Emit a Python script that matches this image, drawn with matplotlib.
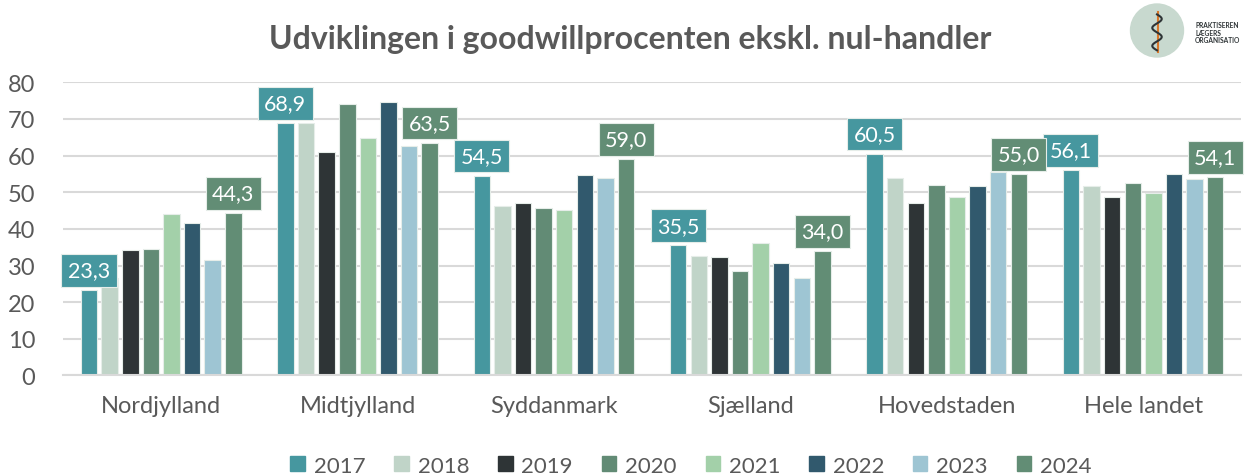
import numpy as np
import matplotlib
matplotlib.use("Agg")
import matplotlib.pyplot as plt
from matplotlib.patches import Circle

plt.rcParams['font.family'] = ['Lato', 'DejaVu Sans']

categories = ["Nordjylland", "Midtjylland", "Syddanmark", "Sjælland", "Hovedstaden", "Hele landet"]
years = ["2017", "2018", "2019", "2020", "2021", "2022", "2023", "2024"]
v2017 = [23.3, 68.9, 54.5, 35.5, 60.5, 56.1]
v2018 = [26.7, 68.9, 46.3, 32.6, 54.0, 51.6]
v2019 = [34.2, 61.0, 47.2, 32.2, 47.0, 48.6]
v2020 = [34.6, 74.1, 45.6, 28.5, 52.0, 52.5]
v2021 = [44.0, 64.7, 45.1, 36.1, 48.6, 49.8]
v2022 = [41.7, 74.7, 54.7, 30.8, 51.8, 54.9]
v2023 = [31.4, 62.7, 53.8, 26.7, 55.6, 53.6]
v2024 = [44.3, 63.5, 59.0, 34.0, 55.0, 54.1]
series = [v2017, v2018, v2019, v2020, v2021, v2022, v2023, v2024]
colors = ["#46979F", "#C0D4C8", "#2E3436", "#628B75", "#A3D0A9", "#31596D", "#9EC5D3", "#628D75"]
labelled = {0, 7}

fig = plt.figure(figsize=(12.45, 4.77), dpi=100)
ax = fig.add_axes([0.0506, 0.2107, 0.9464, 0.6147])

x = np.arange(len(categories))
stride = 0.105
width = 0.084
n = len(series)
for i, (vals, c) in enumerate(zip(series, colors)):
    off = (i - (n - 1) / 2) * stride
    ax.bar(x + off, vals, width, color=c, edgecolor="#E6EDE9", linewidth=0.8, zorder=2)
    if i in labelled:
        for xi, v in zip(x + off, vals):
            ax.annotate(f"{v:.1f}".replace(".", ","), (xi, v), xytext=(0, 7),
                        textcoords="offset points", ha="center", va="bottom",
                        fontsize=15.5, color="white", zorder=5,
                        bbox=dict(boxstyle="square,pad=0.3", fc=c, ec="#E6EDE9", lw=0.8))

ax.set_xlim(-0.5, len(categories) - 0.5)
ax.set_ylim(0, 80)
ax.set_yticks(range(0, 81, 10))
ax.yaxis.grid(True, color="#D9D9D9", linewidth=1.5, zorder=0)
ax.set_axisbelow(True)
for s in ["top", "right", "left"]:
    ax.spines[s].set_visible(False)
ax.spines["bottom"].set_color("#D9D9D9")
ax.spines["bottom"].set_linewidth(1.5)
ax.tick_params(axis="both", length=0, labelcolor="#595959")
ax.tick_params(axis="y", labelsize=17, pad=20)
ax.tick_params(axis="x", labelsize=17, pad=14)
ax.set_xticks(x)
ax.set_xticklabels(categories)

fig.text(0.506, 0.918, "Udviklingen i goodwillprocenten ekskl. nul-handler",
         ha="center", va="center", fontsize=23, fontweight="bold", color="#595959")

handles = [plt.Rectangle((0, 0), 1, 1, color=c) for c in colors]
fig.legend(handles, years, loc="center", bbox_to_anchor=(0.555, 0.022), ncol=8,
           frameon=False, fontsize=16, labelcolor="#595959", handlelength=0.65,
           handleheight=0.65, handletextpad=0.4, columnspacing=1.3)

# logo
lax = fig.add_axes([0.905, 0.86, 0.095, 0.14])
lax.set_xlim(0, 125)
lax.set_ylim(70, 0)
lax.set_aspect("equal")
lax.axis("off")
lax.add_patch(Circle((32, 33), 28, color="#C8D9CF"))
lax.plot([33, 33], [13, 56], color="#D9772B", lw=1.5)
t = np.linspace(0, 1, 60)
lax.plot(32 + 5 * np.sin(t * 4 * np.pi), 16 + 38 * t, color="#2E3436", lw=1.5)
fig.text(1195 / 1245, 1 - 33 / 477, "PRAKTISEREN\nLÆGERS\nORGANISATIO", fontsize=4.8,
         fontweight="bold", color="#2E3436", va="center", ha="left", linespacing=1.15)

fig.savefig("out.png", dpi=100)
